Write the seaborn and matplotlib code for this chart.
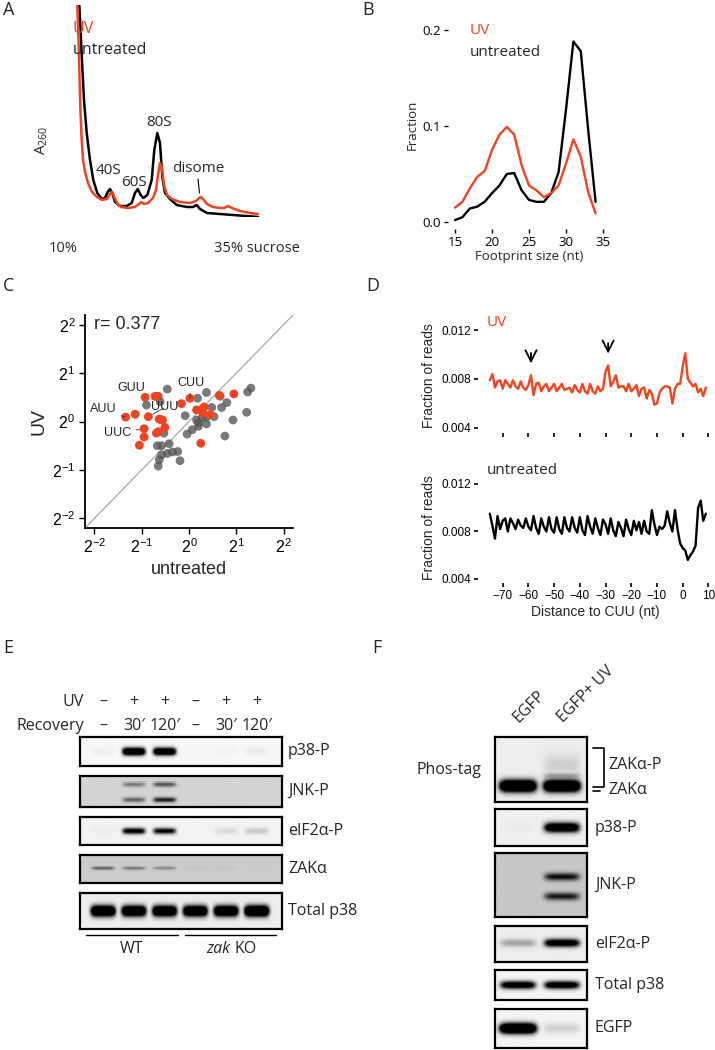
import numpy as np
import pandas as pd
import seaborn as sns
import matplotlib.pyplot as plt

# ---------------- A: polysome profiles (gradient position, A260 a.u.)
prof_untr_pos = [4.3, 5.7, 7.3, 9, 11.7, 15, 18.3, 22.3, 26.7, 30, 32.7, 35, 37.3, 40, 45, 51.7,
                 56.7, 60, 62.7, 65.7, 68.3, 72.3, 76.7, 79.3, 82.3, 85, 87.3, 90, 95, 101.7,
                 111.7, 118, 121.7, 125, 132, 158, 171.7, 183.3]
prof_untr_a260 = [212, 184, 150, 117, 84, 57, 37, 24, 18, 19, 25, 28, 24, 15, 11, 11,
                  14, 24, 28, 22, 19, 22, 37, 67, 84, 74, 40, 24, 18, 12,
                  10, 10, 12, 8, 4, 2, 1, 0]
prof_uv_pos = [2.3, 3.5, 4.5, 5.5, 6.7, 8, 10, 13, 17, 22, 27, 32, 35, 37, 39, 42, 46, 53,
               60, 64, 66, 69, 73, 78, 81, 83, 85, 87, 89, 92, 97, 105, 115, 121, 124, 126,
               128, 132, 138, 145, 149, 153, 157, 165, 175, 183]
prof_uv_a260 = [212, 177, 140, 105, 77, 58, 45, 34, 25, 20, 17, 18, 23, 25, 21, 14, 10, 9,
                10, 13, 15, 13, 14, 19, 27, 42, 54, 49, 32, 22, 18, 15, 14, 16, 19, 20,
                18, 13, 10, 9, 9, 11, 9, 6, 4, 3]

# ---------------- B: footprint size distribution
fp_size = list(range(15, 35))
fp_untr = [0.002, 0.005, 0.014, 0.016, 0.021, 0.030, 0.038, 0.050, 0.051, 0.033,
           0.023, 0.021, 0.021, 0.030, 0.052, 0.117, 0.188, 0.178, 0.096, 0.021]
fp_uv = [0.015, 0.021, 0.035, 0.047, 0.053, 0.075, 0.091, 0.099, 0.091, 0.059,
         0.038, 0.033, 0.026, 0.030, 0.038, 0.061, 0.086, 0.068, 0.031, 0.009]

# ---------------- C: codon occupancy (log2)
up_untr = [-0.93, -0.72, -0.68, 0.02, -0.16, -1.34, -1.14, -0.86, -0.63, -0.56, -0.51, -0.95,
           -0.95, -1.05, -0.69, -0.65, 0.16, 0.25, 0.32, 0.29, 0.45, 0.64, 0.95, 0.25, -0.60]
up_uv = [0.50, 0.52, 0.52, 0.48, 0.37, 0.09, 0.15, 0.10, 0.05, 0.03, -0.12, -0.15,
         -0.32, -0.49, -0.24, -0.21, 0.24, 0.24, 0.30, 0.18, 0.14, 0.54, 0.57, -0.45, 0.04]
up_codon = ['GUU', '', '', 'CUU', '', 'AUU', '', 'UUU', '', '', '', 'UUC',
            '', '', '', '', '', '', '', '', '', '', '', '', '']
rest_untr = [-0.46, -0.65, -0.61, -0.90, 0.18, 0.37, 0.66, 0.80, 0.69, 0.48, 0.53, 0.37, 0.27,
             0.20, 0.20, 0.37, 0.07, -0.04, -0.08, 0.93, 0.76, 1.22, 1.24, 1.31, -0.53, -0.67,
             -0.58, -0.42, -0.58, -0.46, -0.35, -0.24, -0.63, -0.65, -0.19, 0.16]
rest_uv = [0.67, 0.52, 0.41, 0.34, 0.48, 0.60, 0.52, 0.39, 0.29, 0.29, 0.10, 0.09, 0.07,
           -0.03, -0.10, -0.05, -0.17, -0.26, 0.12, 0.03, -0.30, 0.19, 0.61, 0.69, -0.24, -0.50,
           -0.50, -0.46, -0.69, -0.66, -0.63, -0.62, -0.79, -0.92, -0.81, 0.03]

# ---------------- D: metagene around CUU (fraction of reads x 1e-3)
dist = list(range(-75, 10))
uv_reads = [7.9, 8.4, 7.3, 7.8, 7.9, 7.2, 7.9, 7.6, 7.3, 7.9,
            7.4, 7.2, 7.8, 7.3, 7.1, 7.5, 8.3, 6.7, 7.6, 7.7,
            7.0, 7.4, 7.6, 7.0, 7.3, 7.6, 7.0, 7.3, 7.6, 7.1,
            7.2, 7.3, 6.9, 7.5, 7.1, 6.9, 7.6, 7.0, 6.8, 7.6,
            7.0, 6.8, 7.4, 7.0, 7.2, 8.6, 9.1, 7.4, 7.8, 8.3,
            7.3, 7.4, 7.4, 7.0, 7.6, 7.0, 7.2, 7.5, 6.6, 7.2,
            7.3, 6.4, 7.1, 6.8, 5.9, 6.0, 6.9, 7.2, 7.4, 7.4,
            7.3, 6.0, 7.2, 7.6, 7.6, 9.0, 10.1, 8.0, 7.7, 7.4,
            7.6, 6.9, 7.2, 6.6, 7.3]
untr_reads = [9.5, 8.5, 7.4, 9.3, 8.2, 8.9, 9.1, 8.0, 9.1, 8.7,
              8.2, 9.0, 8.5, 8.3, 9.1, 8.4, 8.1, 9.3, 8.3, 7.8,
              9.1, 8.4, 8.0, 9.2, 8.2, 7.9, 9.2, 8.2, 7.8, 9.2,
              8.3, 8.0, 9.2, 8.3, 7.9, 9.2, 8.1, 7.7, 9.3, 8.4,
              7.8, 9.1, 8.3, 7.7, 9.0, 8.6, 7.8, 9.1, 8.1, 7.6,
              8.8, 8.3, 7.6, 9.0, 8.2, 7.7, 8.9, 8.1, 8.8, 7.8,
              8.9, 8.0, 7.8, 9.8, 8.6, 7.7, 8.4, 8.2, 8.5, 9.7,
              8.7, 8.0, 9.8, 8.2, 7.0, 6.6, 6.4, 5.6, 6.0, 6.3,
              6.8, 10.0, 10.6, 8.9, 9.5]

# ---------------- E / F: band intensities per lane (0 = none, >1 saturated)
e_uv = ['–', '+', '+', '–', '+', '+']
e_recovery = ['–', '30′', '120′', '–', '30′', '120′']
e_p38p = [0.03, 1.7, 1.6, 0.0, 0.02, 0.05]
e_jnkp_upper = [0.0, 0.35, 0.5, 0.0, 0.0, 0.0]
e_jnkp_lower = [0.0, 0.45, 0.75, 0.0, 0.0, 0.0]
e_eif2ap = [0.02, 1.1, 1.0, 0.0, 0.1, 0.18]
e_zak = [0.45, 0.35, 0.28, 0.02, 0.03, 0.01]
e_total_p38 = [1.8, 1.7, 1.7, 1.7, 1.7, 1.9]

f_lanes = ['EGFP', 'EGFP+ UV']
f_zak = [1.9, 1.9]
f_zak_p = [0.0, 0.22]
f_zak_smear = [0.0, 0.12]
f_p38p = [0.02, 1.5]
f_jnkp_upper = [0.0, 0.75]
f_jnkp_lower = [0.0, 0.7]
f_eif2ap = [0.3, 1.3]
f_total_p38 = [1.3, 1.3]
f_egfp = [1.9, 0.15]

RED = '#EE4422'
HELV = ['Liberation Sans', 'DejaVu Sans']

sns.set_theme(style='white')
plt.rcParams['font.family'] = ['Open Sans', 'DejaVu Sans']

W, H = 715, 1050
fig = plt.figure(figsize=(7.15, 10.5), dpi=100)


def px_axes(x0, y0, x1, y1):
    return fig.add_axes([x0 / W, 1 - y1 / H, (x1 - x0) / W, (y1 - y0) / H])


def helv_ticks(ax, size):
    for lab in ax.get_xticklabels() + ax.get_yticklabels():
        lab.set_family(HELV)
        lab.set_fontsize(size)


# ---- A
axA = px_axes(75, 5, 262, 217)
dfA = pd.concat([
    pd.DataFrame({'pos': prof_untr_pos, 'a260': prof_untr_a260, 'sample': 'untreated'}),
    pd.DataFrame({'pos': prof_uv_pos, 'a260': prof_uv_a260, 'sample': 'UV'})])
sns.lineplot(data=dfA, x='pos', y='a260', hue='sample', hue_order=['untreated', 'UV'],
             palette={'untreated': 'black', 'UV': RED}, sort=False, estimator=None,
             legend=False, lw=1.8, ax=axA)
axA.set_xlim(0, 187)
axA.set_ylim(0, 212)
axA.axis('off')

# ---- B
axB = px_axes(448, 20, 610, 229)
dfB = pd.DataFrame({'size': fp_size * 2, 'fraction': fp_untr + fp_uv,
                    'sample': ['untreated'] * len(fp_size) + ['UV'] * len(fp_size)})
sns.lineplot(data=dfB, x='size', y='fraction', hue='sample', hue_order=['untreated', 'UV'],
             palette={'untreated': 'black', 'UV': RED}, legend=False, lw=1.7, ax=axB)
axB.set_xlim(14.05, 35.95)
axB.set_ylim(-0.0073, 0.2104)
sns.despine(ax=axB, left=True, bottom=True)
axB.set_xticks([15, 20, 25, 30, 35])
axB.set_yticks([0, 0.1, 0.2])
axB.set_yticklabels(['0.0', '0.1', '0.2'])
axB.tick_params(left=True, bottom=True, length=3, width=1, colors='black', labelsize=9.5, pad=2)
axB.set_xlabel('Footprint size (nt)', fontsize=9.5, labelpad=1)
axB.set_ylabel('Fraction', fontsize=9.5, labelpad=3)

# ---- C
axC = px_axes(85, 315, 293, 528)
axC.axline((0, 0), slope=1, color='#a8a8a8', lw=0.9, zorder=0)
sns.scatterplot(x=rest_untr, y=rest_uv, color='#555555', alpha=0.78, s=40,
                edgecolor='none', ax=axC)
sns.scatterplot(x=up_untr, y=up_uv, color=RED, s=40, edgecolor='none', ax=axC)
lab_off = {'GUU': (-1.21, 0.70), 'CUU': (0.04, 0.80), 'AUU': (-1.81, 0.25),
           'UUU': (-0.51, 0.29), 'UUC': (-1.51, -0.23)}
for cod, x, y in zip(up_codon, up_untr, up_uv):
    if cod:
        axC.annotate(cod, xy=(x, y), xytext=lab_off[cod], fontsize=9, family=HELV,
                     ha='center', va='center',
                     arrowprops=dict(arrowstyle='-', lw=0.6, color='#333333',
                                     shrinkA=1, shrinkB=3.5))
axC.text(-2.0, 2.0, 'r= 0.377', fontsize=13, family=HELV, ha='left', va='center')
axC.set_xlim(-2.2, 2.2)
axC.set_ylim(-2.2, 2.2)
ticks = [-2, -1, 0, 1, 2]
axC.set_xticks(ticks)
axC.set_yticks(ticks)
axC.set_xticklabels([r'$\mathregular{2^{%d}}$' % t for t in ticks])
axC.set_yticklabels([r'$\mathregular{2^{%d}}$' % t for t in ticks])
sns.despine(ax=axC)
for sp in ['left', 'bottom']:
    axC.spines[sp].set_linewidth(1.3)
    axC.spines[sp].set_color('black')
axC.tick_params(left=True, bottom=True, length=4, width=1, colors='black', pad=3)
helv_ticks(axC, 11.5)
axC.set_xlabel('untreated', fontsize=13, family=HELV, labelpad=3)
axC.set_ylabel('UV', fontsize=14, family=HELV, labelpad=3)

# ---- D
axD1 = px_axes(478, 318, 712, 433)
axD2 = px_axes(478, 472, 712, 583)
sns.lineplot(x=dist, y=np.array(uv_reads) / 1000, color=RED, lw=1.7, ax=axD1)
sns.lineplot(x=dist, y=np.array(untr_reads) / 1000, color='black', lw=1.7, ax=axD2)
axD1.set_ylim(0.00359, 0.01298)
axD2.set_ylim(0.00366, 0.01301)
for ax in (axD1, axD2):
    ax.set_xlim(-79.6, 11.4)
    sns.despine(ax=ax, left=True, bottom=True)
    ax.set_xticks(range(-70, 11, 10))
    ax.set_yticks([0.004, 0.008, 0.012])
    ax.set_yticklabels(['0.004', '0.008', '0.012'])
    ax.tick_params(left=True, bottom=True, length=3, width=1.2, colors='black', pad=2)
    ax.set_ylabel('Fraction of reads', fontsize=10, family=HELV, labelpad=4)
axD1.set_xticklabels([])
helv_ticks(axD1, 8.5)
helv_ticks(axD2, 8.5)
axD2.set_xlabel('Distance to CUU (nt)', fontsize=10, family=HELV, labelpad=2)
for xp, y0, y1 in [(-59, 0.01035, 0.00905), (-29, 0.01115, 0.00985)]:
    axD1.annotate('', xy=(xp, y1), xytext=(xp, y0),
                  arrowprops=dict(arrowstyle='->', lw=1.3, color='black', mutation_scale=20))


# ---- E / F western blots
def draw_blot(rect, xlim, bands, bg, half_w):
    ax = px_axes(*rect)
    xs = np.linspace(xlim[0], xlim[1], 400)
    ys = np.linspace(0, 1, 90)
    X, Y = np.meshgrid(xs, ys)
    dark = np.full_like(X, bg)
    for levels, yc, hh in bands:
        for cx, lev in enumerate(levels):
            dark += lev * np.exp(-((X - cx) / half_w) ** 6) * np.exp(-((Y - yc) / hh) ** 2)
    ax.imshow(np.clip(dark, 0, 1), cmap='gray_r', vmin=0, vmax=1, origin='lower',
              extent=(xlim[0], xlim[1], 0, 1), aspect='auto', interpolation='bilinear')
    ax.set_xticks([])
    ax.set_yticks([])
    for sp in ax.spines.values():
        sp.set_visible(True)
        sp.set_linewidth(1.6)
        sp.set_color('black')
    return ax


e_xlim = ((80 - 103) / 30.8, (282 - 103) / 30.8)
draw_blot((80, 737, 282, 766), e_xlim, [(e_p38p, 0.5, 0.13)], 0.03, 0.37)
draw_blot((80, 776, 282, 807), e_xlim, [(e_jnkp_upper, 0.73, 0.08), (e_jnkp_lower, 0.23, 0.08)],
          0.17, 0.37)
draw_blot((80, 817, 282, 845), e_xlim, [(e_eif2ap, 0.5, 0.11)], 0.05, 0.37)
draw_blot((80, 855, 282, 883), e_xlim, [(e_zak, 0.53, 0.06)], 0.2, 0.37)
draw_blot((80, 893, 282, 929), e_xlim, [(e_total_p38, 0.5, 0.15)], 0.07, 0.4)

f_xlim = ((495 - 518) / 44, (587 - 518) / 44)
draw_blot((495, 737, 587, 802), f_xlim,
          [(f_zak, 0.24, 0.09), (f_zak_p, 0.40, 0.035), (f_zak_smear, 0.56, 0.17)], 0.07, 0.42)
draw_blot((495, 809, 587, 846), f_xlim, [(f_p38p, 0.5, 0.13)], 0.06, 0.4)
draw_blot((495, 853, 587, 917), f_xlim, [(f_jnkp_upper, 0.63, 0.06), (f_jnkp_lower, 0.32, 0.06)],
          0.22, 0.4)
draw_blot((495, 926, 587, 962), f_xlim, [(f_eif2ap, 0.53, 0.11)], 0.07, 0.4)
draw_blot((495, 970, 587, 1000), f_xlim, [(f_total_p38, 0.5, 0.13)], 0.04, 0.4)
draw_blot((495, 1009, 587, 1048), f_xlim, [(f_egfp, 0.49, 0.13)], 0.04, 0.42)

# ---- overlay for labels (pixel coordinates)
ov = fig.add_axes([0, 0, 1, 1])
ov.set_xlim(0, W)
ov.set_ylim(H, 0)
ov.axis('off')


def T(x, y, s, size=11.5, ha='left', **kw):
    ov.text(x, y, s, fontsize=size, ha=ha, va='center', **kw)


for x, y, s in [(3, 10, 'A'), (362, 10, 'B'), (3, 286, 'C'), (366, 286, 'D'),
                (3, 648, 'E'), (372, 648, 'F')]:
    T(x, y, s, size=13)

T(73, 29, 'UV', color=RED)
T(73, 50, 'untreated')
T(42, 140, r'$\mathregular{A_{260}}$', size=11, ha='center', rotation=90)
T(108, 170, '40S', size=11, ha='center')
T(134, 182, '60S', size=11, ha='center')
T(159, 122, '80S', size=11, ha='center')
T(198, 169, 'disome', size=11, ha='center')
ov.plot([198, 199.5], [179, 193], color='black', lw=0.8)
T(63, 249, '10%', size=10.5, ha='center')
T(257, 249, '35% sucrose', size=10.5, ha='center')

T(470, 31, 'UV', size=11, color=RED)
T(470, 52, 'untreated', size=11)

T(487, 322, 'UV', size=11, color=RED)
T(487, 470, 'untreated', size=11)

T(84, 702, 'UV', ha='right')
T(84, 726, 'Recovery', ha='right')
for i, (u, r) in enumerate(zip(e_uv, e_recovery)):
    T(103 + 30.8 * i, 702, u, ha='center')
    T(103 + 30.8 * i, 726, r, ha='center')
for y, s in [(751, 'p38-P'), (791, 'JNK-P'), (831, 'eIF2α-P'), (869, 'ZAKα'), (911, 'Total p38')]:
    T(288, y, s)
ov.plot([86, 178], [935, 935], color='black', lw=1)
ov.plot([185, 276], [935, 935], color='black', lw=1)
T(132, 949, 'WT', ha='center')
T(230, 949, 'zak', ha='right', style='italic')
T(234, 949, 'KO')

for i, s in enumerate(f_lanes):
    ov.text(519 + 44 * i, 723, s, fontsize=11.5, rotation=45, rotation_mode='anchor',
            ha='left', va='baseline')
T(417, 770, 'Phos-tag')
ov.plot([593, 604, 604, 593], [748, 748, 787, 787], color='black', lw=1.2)
ov.plot([593, 600], [791, 791], color='black', lw=1.2)
T(608, 765, 'ZAKα-P')
T(608, 790, 'ZAKα')
for y, s in [(828, 'p38-P'), (885, 'JNK-P'), (944, 'eIF2α-P'), (985, 'Total p38'), (1028, 'EGFP')]:
    T(595, y, s)

fig.savefig('out.png', dpi=100)
